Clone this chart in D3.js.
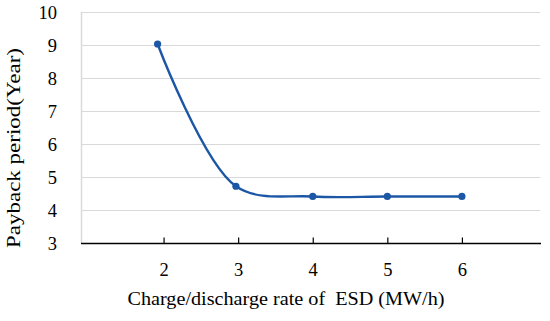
<!DOCTYPE html>
<html><head><meta charset="utf-8">
<script src="https://cdn.jsdelivr.net/npm/d3@7"></script>
<style>body{margin:0;background:#fff}svg{display:block}
text{font-family:"Liberation Serif","Times New Roman",serif}</style>
</head><body><svg id="c" width="550" height="321"></svg>
<script>
const rates = [1.92, 2.97, 4, 5, 6];
const payback = [9.03, 4.72, 4.41, 4.41, 4.41];
const xTicks = [2, 3, 4, 5, 6];
const yTicks = [3, 4, 5, 6, 7, 8, 9, 10];
const xTitle = "Charge/discharge rate of\u00a0 ESD (MW/h)";
const yTitle = "Payback period(Year)";

const svg = d3.select("#c");
const L = 81, R = 540, T = 12, B = 243;
const x = d3.scaleLinear().domain([0.893, 7.047]).range([L, R]);
const y = d3.scaleLinear().domain([3, 10]).range([B, T]);
const font = "Liberation Serif";

// gridlines
svg.append("g").selectAll("line").data(yTicks.filter(d => d > 3)).join("line")
  .attr("x1", L).attr("x2", R).attr("y1", d => y(d) + 0.5).attr("y2", d => y(d) + 0.5)
  .attr("stroke", "#d9d9d9").attr("stroke-width", 1);
// left axis line
svg.append("line").attr("x1", L + 0.5).attr("x2", L + 0.5).attr("y1", T).attr("y2", B)
  .attr("stroke", "#d9d9d9").attr("stroke-width", 1.5);

// y axis labels
const yAxis = d3.axisLeft(y).tickValues(yTicks).tickSize(0).tickPadding(0).tickFormat(d3.format("d"));
const gy = svg.append("g").attr("transform", `translate(${L - 24},0)`).call(yAxis);
gy.attr("font-family", font);
gy.select(".domain").remove();
gy.selectAll("text").attr("font-size", 18.5).attr("fill", "#000").attr("text-anchor", "end").attr("dy", "0.36em");

// x axis
const xAxis = d3.axisBottom(x).tickValues(xTicks).tickSize(5).tickPadding(14).tickFormat(d3.format("d"));
const gx = svg.append("g").attr("transform", `translate(0,${B + 0.5})`).call(xAxis);
gx.attr("font-family", font);
gx.select(".domain").attr("d", `M${L},0H${R + 1}`).attr("stroke", "#000").attr("stroke-width", 1.6);
gx.selectAll(".tick line").attr("y1", -6).attr("y2", 0).attr("stroke", "#000").attr("stroke-width", 1.2);
gx.selectAll("text").attr("font-size", 18.5).attr("fill", "#000").attr("y", 0).attr("dy", 0)
  .attr("transform", "translate(0,32)");

// line
const pts = rates.map((r, i) => [r, payback[i]]);
const line = d3.line().x(d => x(d[0])).y(d => y(d[1])).curve(d3.curveCatmullRom.alpha(0.5));
svg.append("path").datum(pts).attr("d", line).attr("fill", "none")
  .attr("stroke", "#1c57a5").attr("stroke-width", 2.4);
svg.append("g").selectAll("circle").data(pts).join("circle")
  .attr("cx", d => x(d[0])).attr("cy", d => y(d[1])).attr("r", 3.6).attr("fill", "#1c57a5");

// titles
svg.append("text").attr("x", 286).attr("y", 305).attr("text-anchor", "middle")
  .attr("font-family", font).attr("font-size", 19)
  .attr("textLength", 317).attr("lengthAdjust", "spacingAndGlyphs").text(xTitle);
svg.append("text").attr("transform", "translate(20,148) rotate(-90)").attr("text-anchor", "middle")
  .attr("font-family", font).attr("font-size", 19)
  .attr("textLength", 200).attr("lengthAdjust", "spacingAndGlyphs").text(yTitle);
</script></body></html>
